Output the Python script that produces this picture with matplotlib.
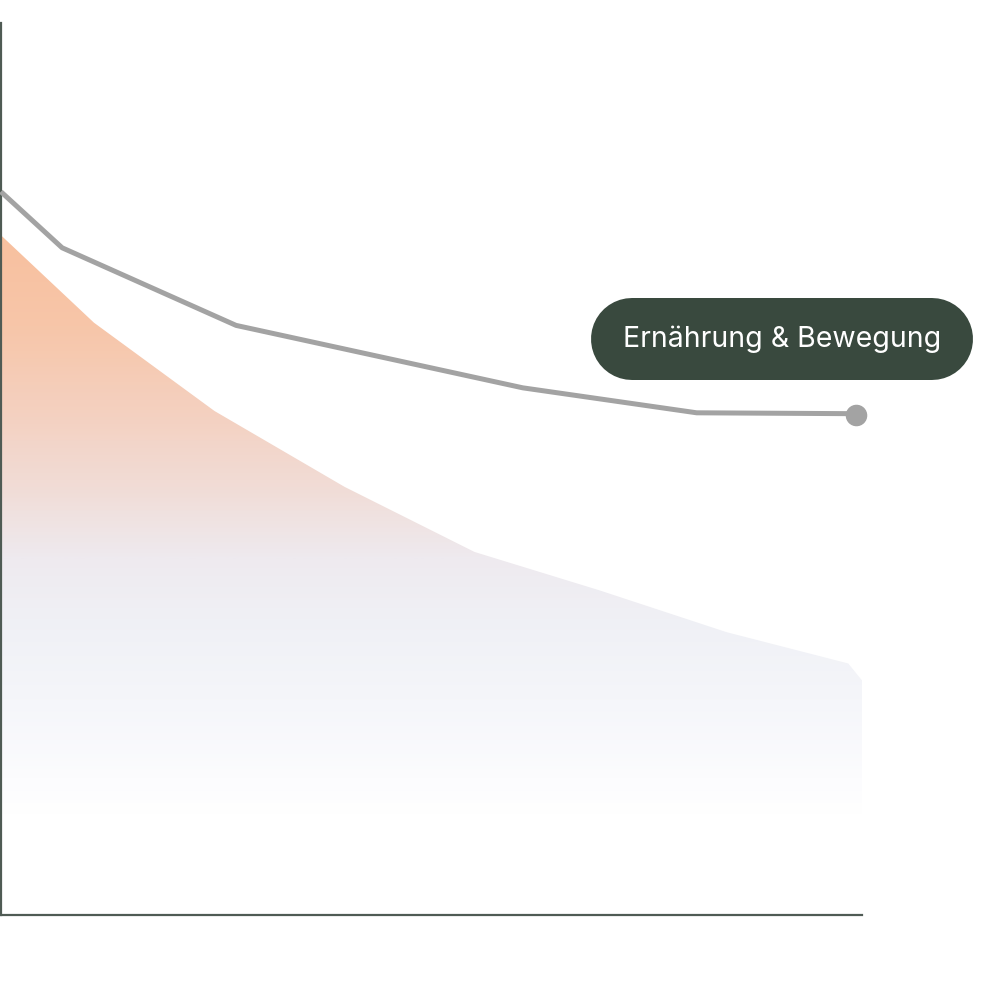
import numpy as np
import matplotlib
matplotlib.use("Agg")
import matplotlib.pyplot as plt
from matplotlib.colors import LinearSegmentedColormap, to_rgb
from matplotlib.lines import Line2D
from matplotlib.transforms import IdentityTransform

# Grey line: "Ernährung & Bewegung"
line_x = [0.2, 7.1, 27.3, 60.6, 80.8, 99.3]
line_y = [80.9, 74.8, 66.1, 59.1, 56.3, 56.2]

# Gradient area (comparison curve)
area_x = [0, 10.8, 24.8, 39.9, 55.0, 69.5, 84.3, 98.4, 100]
area_y = [76.2, 66.4, 56.5, 48.0, 40.7, 36.4, 31.7, 28.2, 26.3]

label = "Ernährung & Bewegung"

# gradient stops (data y, colour)
grad_stops = [(0, "#ffffff"), (11, "#ffffff"), (15, "#fcfcfe"), (24, "#f5f6fa"),
              (32, "#f0f1f6"), (40, "#eeeaef"), (48, "#f1dcd6"), (56, "#f4d1c1"),
              (66, "#f7c6a9"), (78, "#f8bf9d"), (100, "#f8bf9d")]

fig = plt.figure(figsize=(9.82, 10), dpi=100)
ax = fig.add_axes([1 / 982, 85 / 1000, 861 / 982, 892 / 1000])
ax.set_xlim(0, 100)
ax.set_ylim(0, 100)

# vertical gradient clipped to the area polygon
cmap = LinearSegmentedColormap.from_list(
    "grad", [(p / 100, to_rgb(c)) for p, c in grad_stops])
grad = np.linspace(0, 1, 500).reshape(-1, 1)
img = ax.imshow(grad, cmap=cmap, extent=(0, 100, 0, 100), origin="lower",
                aspect="auto", zorder=1)
poly = ax.fill_between(area_x, area_y, 0, color="none", lw=0)
clip = poly.get_paths()[0]
img.set_clip_path(clip, transform=ax.transData)

ax.plot(line_x, line_y, color="#a3a3a3", lw=3.6, solid_joinstyle="round",
        zorder=3, clip_on=False)
ax.plot(line_x[-1], line_y[-1] - 0.2, "o", color="#a3a3a3", ms=14.5,
        zorder=4, clip_on=False)

# axis styling
for s in ["top", "right"]:
    ax.spines[s].set_visible(False)
for s in ["left", "bottom"]:
    ax.spines[s].set_color("#4f5b54")
    ax.spines[s].set_linewidth(1.6)
ax.set_xticks([])
ax.set_yticks([])

# label pill (pixel coordinates): a thick line with round caps
pill = Line2D([632, 932], [661, 661], lw=82 * 72 / 100, color="#39493e",
              solid_capstyle="round", transform=IdentityTransform(), zorder=5)
fig.add_artist(pill)
fig.text(782 / 982, 661 / 1000, label, color="white", fontsize=20.5,
         family=["Inter", "DejaVu Sans"], ha="center", va="center", zorder=6)

fig.savefig("out.png", dpi=100)
